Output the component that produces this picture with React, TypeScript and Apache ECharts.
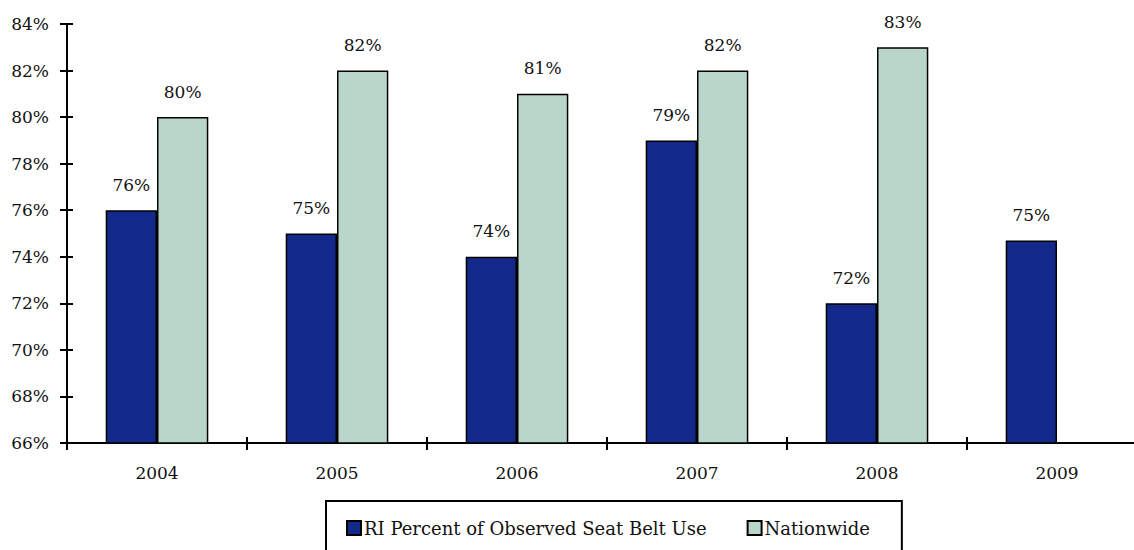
import React, { useEffect, useRef } from "react";
import * as echarts from "echarts";

const years = ["2004", "2005", "2006", "2007", "2008", "2009"];
const riValues = [76, 75, 74, 79, 72, 74.7];
const nationwideValues: (number | null)[] = [80, 82, 81, 82, 83, null];
const seriesNames = ["RI Percent of Observed Seat Belt Use", "Nationwide"];

const FONT = "DejaVu Serif";
const FS = 17;

export default function App() {
  const ref = useRef<HTMLDivElement>(null);
  useEffect(() => {
    if (!ref.current) return;
    const chart = echarts.init(ref.current, null, { renderer: "svg" });
    const axisLine = { show: true, lineStyle: { color: "#000", width: 2 } };
    const yBase = { type: "value" as const, min: 66, max: 84, interval: 2, position: "left" as const, splitLine: { show: false }, axisLine };
    const label = {
      show: true,
      position: "top" as const,
      distance: 17,
      color: "#111",
      fontFamily: FONT,
      fontSize: FS,
      formatter: (p: any) => Math.round(p.value) + "%",
    };
    chart.setOption({
      animation: false,
      textStyle: { fontFamily: FONT },
      grid: { left: 67, top: 24, width: 1080, height: 419, containLabel: false },
      legend: {
        left: 326,
        top: 501,
        padding: [18, 32, 30, 20],
        borderColor: "#000",
        borderWidth: 2,
        borderRadius: 0,
        itemWidth: 14,
        itemHeight: 14,
        itemGap: 40,
        icon: "rect",
        textStyle: { fontFamily: FONT, fontSize: 18, color: "#111", padding: [0, 0, 0, -2] },
        data: seriesNames,
      },
      xAxis: [
        {
          type: "category",
          data: years,
          boundaryGap: true,
          axisLine,
          axisTick: { show: true, inside: false, length: 7, alignWithLabel: false, lineStyle: { color: "#000", width: 2 } },
          axisLabel: { margin: 21, fontFamily: FONT, fontSize: FS, color: "#111" },
        },
        {
          type: "category",
          data: years,
          position: "bottom",
          boundaryGap: true,
          axisLine,
          axisTick: { show: true, inside: true, length: 6, alignWithLabel: false, lineStyle: { color: "#000", width: 2 } },
          axisLabel: { show: false },
        },
      ],
      yAxis: [
        {
          ...yBase,
          axisTick: { show: true, inside: false, length: 7, lineStyle: { color: "#000", width: 2 } },
          axisLabel: { margin: 18, fontFamily: FONT, fontSize: FS, color: "#111", formatter: (v: number) => v + "%" },
        },
        {
          ...yBase,
          axisTick: { show: true, inside: true, length: 6, lineStyle: { color: "#000", width: 2 } },
          axisLabel: { show: false },
        },
      ],
      series: [
        {
          name: seriesNames[0],
          type: "bar",
          data: riValues,
          barGap: "0%",
          barCategoryGap: "43%",
          itemStyle: { color: "#12288a", borderColor: "#000", borderWidth: 1.5 },
          label,
        },
        {
          name: seriesNames[1],
          type: "bar",
          data: nationwideValues,
          itemStyle: { color: "#b9d6ca", borderColor: "#000", borderWidth: 1.5 },
          label,
        },
      ],
    });
    return () => chart.dispose();
  }, []);
  return (
    <div style={{ position: "fixed", left: 0, top: 0, width: 1134, height: 550, overflow: "hidden", background: "#fff" }}>
      <div ref={ref} style={{ width: 1170, height: 550 }} />
    </div>
  );
}
